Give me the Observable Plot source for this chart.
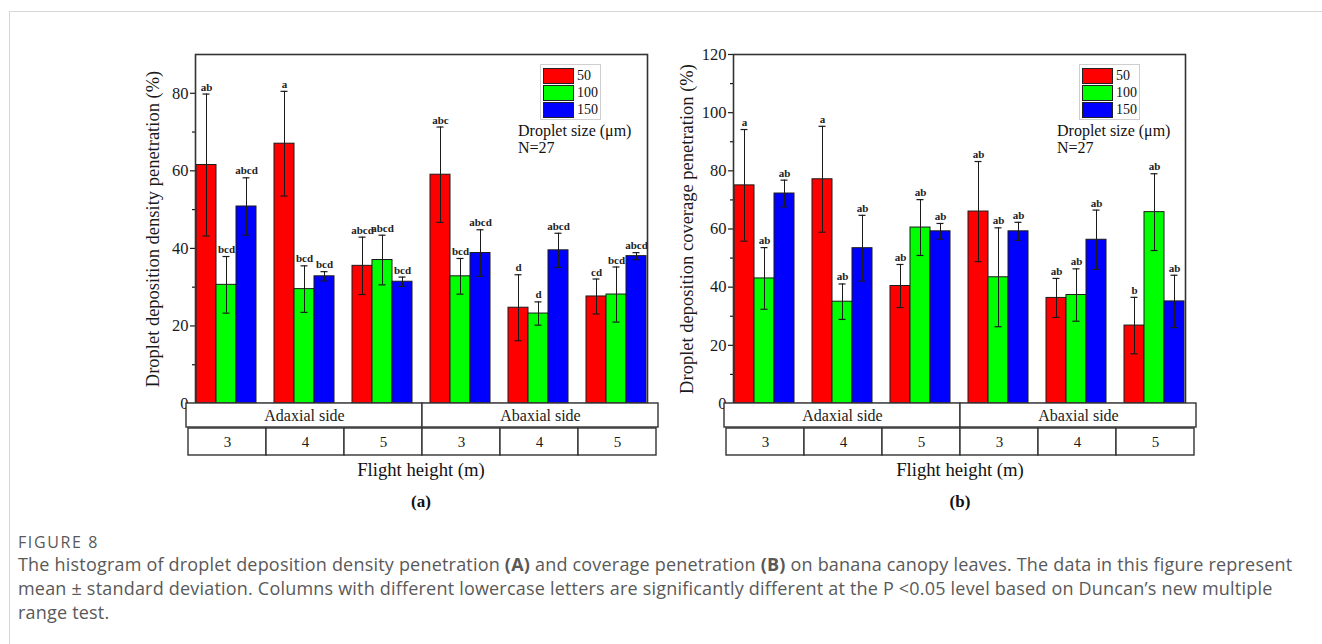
<!DOCTYPE html>
<html>
<head>
<meta charset="utf-8">
<script src="https://cdn.jsdelivr.net/npm/d3@7"></script>
<script src="https://cdn.jsdelivr.net/npm/@observablehq/plot@0.6"></script>
<style>
  html, body { margin: 0; padding: 0; background: #fff; }
  #page { position: relative; width: 1322px; height: 644px; overflow: hidden; font-family: "Liberation Serif", "Times New Roman", serif; }
  #card { position: absolute; left: 9px; top: 11px; width: 1330px; height: 700px; border-top: 1px solid #d6d6d6; border-left: 1px solid #d6d6d6; }
  .abs { position: absolute; }
  .ylab [aria-label="y-axis label"] { font-size: 18.5px; }
  .legend { position: absolute; border: 1px solid #cfcfcf; background: #fff; padding: 2px 2px 1px 2px; }
  .legrow { display: flex; align-items: center; height: 17px; }
  .sw { width: 29px; height: 14px; border: 1px solid #222; margin-right: 3px; }
  .legtxt { font-size: 14px; color: #111; }
  .note { position: absolute; font-size: 16px; line-height: 17px; color: #111; white-space: nowrap; }
  .xlab { position: absolute; font-size: 18.7px; color: #111; text-align: center; width: 300px; }
  .plab { position: absolute; font-size: 17px; font-weight: bold; color: #111; text-align: center; width: 60px; }
  #fig { position: absolute; left: 18px; top: 531px; font-family: "Open Sans", sans-serif; color: #595959; font-size: 16px; letter-spacing: 1.6px; }
  #cap { position: absolute; left: 18px; top: 552px; font-family: "Open Sans", sans-serif; color: #595959; font-size: 18px; line-height: 24px; white-space: nowrap; letter-spacing: 0.2px; }
</style>
</head>
<body>
<div id="page">
  <div id="card"></div>
</div>
<script>
// ---------- data ----------
const sizes = ["50", "100", "150"];
const sides = ["Adaxial side", "Abaxial side"];
const heights = ["3", "4", "5"];
const sizeColors = ["#ff0000", "#00ff00", "#0000ff"];

// order: Adaxial 3,4,5 then Abaxial 3,4,5; within each: 50, 100, 150 µm
const densityMean = [61.5, 30.6, 50.8, 67.0, 29.5, 32.8, 35.5, 37.0, 31.4, 59.0, 32.8, 38.8, 24.7, 23.2, 39.5, 27.6, 28.1, 38.0];
const densitySD   = [18.3, 7.3, 7.4, 13.5, 6.0, 1.2, 7.4, 6.4, 1.2, 12.3, 4.6, 6.0, 8.5, 3.0, 4.4, 4.5, 7.1, 0.9];
const densityLetters = ["ab", "bcd", "abcd", "a", "bcd", "bcd", "abcd", "abcd", "bcd", "abc", "bcd", "abcd", "d", "d", "abcd", "cd", "bcd", "abcd"];

const coverageMean = [75.0, 43.0, 72.2, 77.1, 35.0, 53.4, 40.4, 60.5, 59.2, 66.0, 43.4, 59.2, 36.3, 37.3, 56.3, 26.8, 65.8, 35.1];
const coverageSD   = [19.2, 10.6, 4.6, 18.2, 6.1, 11.3, 7.4, 9.6, 2.7, 17.2, 17.0, 3.1, 6.7, 9.0, 10.2, 9.7, 13.2, 9.0];
const coverageLetters = ["a", "ab", "ab", "a", "ab", "ab", "ab", "ab", "ab", "ab", "ab", "ab", "ab", "ab", "ab", "b", "ab", "ab"];

const yTicksA = [0, 20, 40, 60, 80];
const yMinorA = [10, 30, 50, 70];
const yTicksB = [0, 20, 40, 60, 80, 100, 120];
const yMinorB = [10, 30, 50, 70, 90, 110];

const xTitle = "Flight height (m)";
const legendTitle = "Droplet size (μm)";
const nText = "N=27";

// ---------- build tables ----------
const groups = [];
sides.forEach(s => heights.forEach(h => groups.push({side: s, height: h, key: s + "|" + h})));
function makeRows(means, sds, letters) {
  const rows = [];
  groups.forEach((g, gi) => sizes.forEach((sz, si) => {
    const i = gi * sizes.length + si;
    rows.push({group: g.key, side: g.side, height: g.height, size: sz, mean: means[i], sd: sds[i], letter: letters[i]});
  }));
  return rows;
}
const rowsA = makeRows(densityMean, densitySD, densityLetters);
const rowsB = makeRows(coverageMean, coverageSD, coverageLetters);
const groupKeys = groups.map(g => g.key);

const serif = '"Liberation Serif", "Times New Roman", serif';
const W = 560, ML = 75, MR = 12;

function panel(rows, yDomain, ticks, minor, label, left, labelOffset) {
  const page = document.getElementById("page");
  const wrap = document.createElement("div");
  wrap.className = "abs ylab";
  wrap.style.left = left + "px";
  wrap.style.top = "40px";
  const chart = Plot.plot({
    width: W, height: 373,
    marginLeft: ML, marginRight: MR, marginTop: 14, marginBottom: 10,
    style: {fontFamily: serif, fontSize: "16.5px", color: "#1a1a1a", background: "transparent", overflow: "visible"},
    fx: {domain: groupKeys, paddingInner: 0.2, paddingOuter: 0.1, axis: null, label: null},
    x: {domain: sizes, padding: 0, axis: null},
    y: {domain: yDomain, axis: null},
    color: {domain: sizes, range: sizeColors},
    marks: [
      Plot.barY(rows, {fx: "group", x: "size", y: "mean", fill: "size", stroke: "#1a1a1a", strokeWidth: 1}),
      Plot.ruleX(rows, {fx: "group", x: "size", y1: d => d.mean - d.sd, y2: d => d.mean + d.sd, stroke: "#1a1a1a", strokeWidth: 1}),
      Plot.tickY(rows, {fx: "group", x: "size", y: d => d.mean + d.sd, insetLeft: 6.5, insetRight: 6.5, stroke: "#1a1a1a", strokeWidth: 1.2}),
      Plot.tickY(rows, {fx: "group", x: "size", y: d => d.mean - d.sd, insetLeft: 6.5, insetRight: 6.5, stroke: "#1a1a1a", strokeWidth: 1.2}),
      Plot.text(rows, {fx: "group", x: "size", y: d => d.mean + d.sd, text: "letter", dy: -7, fontWeight: "bold", fontSize: 11, fill: "#222"}),
      Plot.axisY({ticks: minor, tickSize: 3, tickFormat: () => "", label: null, strokeWidth: 1.2}),
      Plot.axisY({ticks: ticks, tickSize: 5, tickPadding: 2, label: label, labelAnchor: "center", labelArrow: "none", labelOffset: labelOffset, strokeWidth: 1.2}),
      Plot.frame({facet: "super", stroke: "#333", strokeWidth: 1.6})
    ]
  });
  wrap.appendChild(chart);
  page.appendChild(wrap);

  // table rows below the plot
  const common = {width: W, marginLeft: ML, marginRight: MR, marginBottom: 1,
    style: {fontFamily: serif, fontSize: "16px", color: "#1a1a1a", background: "transparent", overflow: "visible"}};
  const row1 = Plot.plot({...common, height: 25, marginTop: 0,
    x: {domain: sides, padding: 0, axis: null},
    marks: [
      Plot.cell(sides, {x: d => d, fill: "white", stroke: "#333", strokeWidth: 1.4}),
      Plot.text(sides, {x: d => d, text: d => d, fontSize: 16, fill: "#1a1a1a"})
    ]});
  const w1 = document.createElement("div");
  w1.className = "abs"; w1.style.left = left + "px"; w1.style.top = "403px";
  w1.appendChild(row1); page.appendChild(w1);

  const row2 = Plot.plot({...common, height: 28, marginTop: 0,
    x: {domain: groupKeys, padding: 0, axis: null},
    marks: [
      Plot.cell(groups, {x: "key", fill: "white", stroke: "#333", strokeWidth: 1.4}),
      Plot.text(groups, {x: "key", text: "height", fontSize: 15, fill: "#1a1a1a"})
    ]});
  const w2 = document.createElement("div");
  w2.className = "abs"; w2.style.left = left + "px"; w2.style.top = "428px";
  w2.appendChild(row2); page.appendChild(w2);
}

panel(rowsA, [0, 90], yTicksA, yMinorA, "Droplet deposition density penetration (%)", 110, 50);
panel(rowsB, [0, 120], yTicksB, yMinorB, "Droplet deposition coverage penetration (%)", 648, 54);

// legends and notes
function legend(left, noteLeft) {
  const page = document.getElementById("page");
  const box = document.createElement("div");
  box.className = "legend";
  box.style.left = left + "px"; box.style.top = "64px";
  sizes.forEach((s, i) => {
    const r = document.createElement("div"); r.className = "legrow";
    const sw = document.createElement("div"); sw.className = "sw"; sw.style.background = sizeColors[i];
    const t = document.createElement("span"); t.className = "legtxt"; t.textContent = s;
    r.appendChild(sw); r.appendChild(t); box.appendChild(r);
  });
  box.style.width = "55px";
  page.appendChild(box);
  const n = document.createElement("div");
  n.className = "note"; n.style.left = noteLeft + "px"; n.style.top = "122px";
  n.innerHTML = legendTitle + "<br>" + nText;
  page.appendChild(n);
}
legend(540, 518);
legend(1079, 1057);

function addText(cls, txt, left, top) {
  const d = document.createElement("div");
  d.className = cls; d.textContent = txt; d.style.left = left + "px"; d.style.top = top + "px";
  document.getElementById("page").appendChild(d);
}
addText("xlab", xTitle, 421 - 150, 459);
addText("xlab", xTitle, 960 - 150, 459);
addText("plab", "(a)", 421 - 30, 492);
addText("plab", "(b)", 960 - 30, 492);

const fig = document.createElement("div");
fig.id = "fig"; fig.textContent = "FIGURE 8";
document.getElementById("page").appendChild(fig);
const cap = document.createElement("div");
cap.id = "cap";
cap.innerHTML = "The histogram of droplet deposition density penetration <b>(A)</b> and coverage penetration <b>(B)</b> on banana canopy leaves. The data in this figure represent<br>mean \u00b1 standard deviation. Columns with different lowercase letters are significantly different at the P &lt;0.05 level based on Duncan\u2019s new multiple<br>range test.";
document.getElementById("page").appendChild(cap);
</script>
</body>
</html>
